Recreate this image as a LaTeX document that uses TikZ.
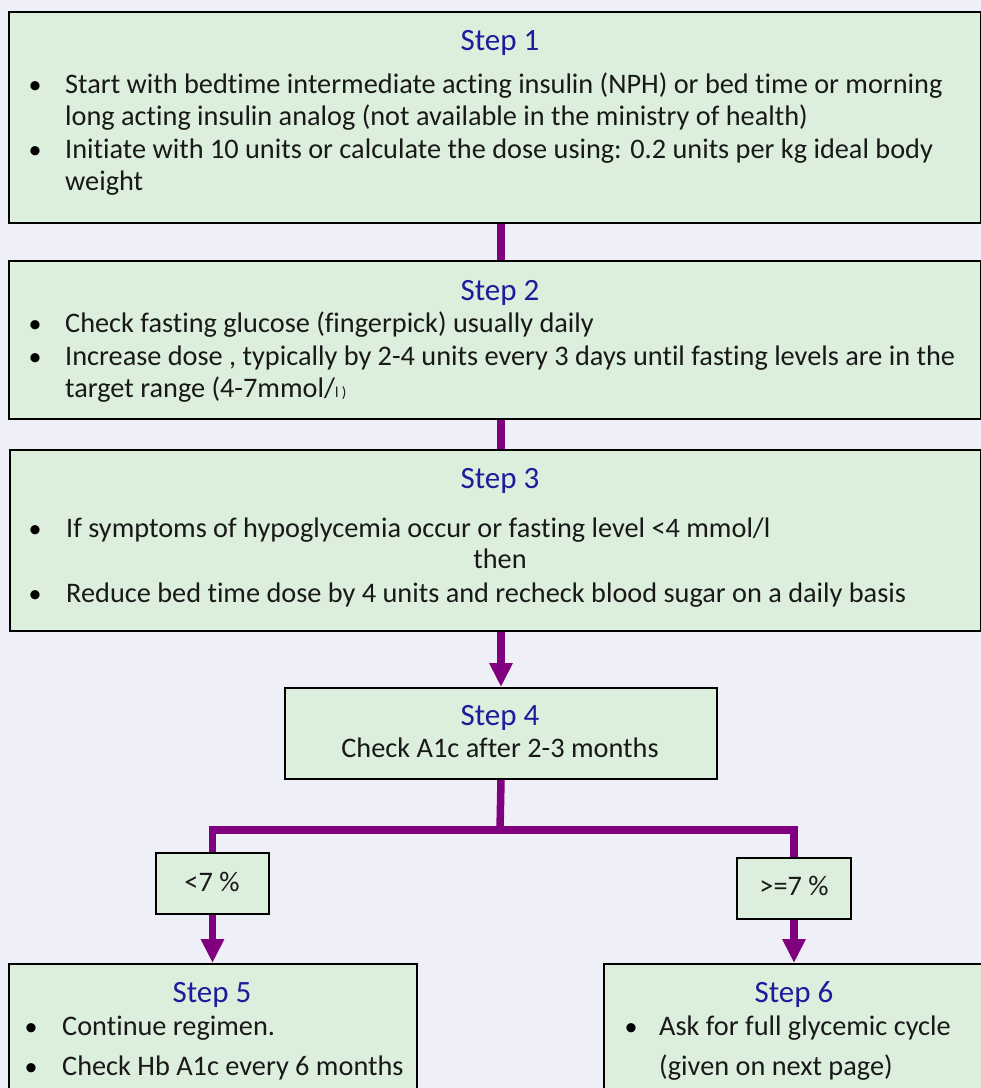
\documentclass[tikz,border=0pt]{standalone}
\usepackage{fontspec}
\setmainfont{Carlito}[Ligatures={NoCommon}]
\usetikzlibrary{arrows.meta}
\definecolor{pagebg}{HTML}{EFEFF8}
\definecolor{boxgreen}{HTML}{DCEEDC}
\definecolor{titleblue}{HTML}{1C1C9C}
\definecolor{flowpurple}{HTML}{800080}
\tikzset{
	stepbox/.style={draw=black, line width=2pt, fill=boxgreen, inner sep=0pt, anchor=north west},
	steptitle/.style={anchor=base, text=titleblue, font=\fontsize{31}{36}\selectfont, inner sep=0pt},
	steptext/.style={anchor=base west, text=black!90, font=\fontsize{28.3}{33}\selectfont, inner sep=0pt},
	stepdot/.style={anchor=base, text=black, font=\fontsize{26}{33}\selectfont, inner sep=0pt},
	flow/.style={draw=flowpurple, line width=7.5pt},
	flowarrow/.style={flow, -{Triangle[width=22pt,length=24pt]}},
}

\begin{document}
\begin{tikzpicture}[x=1pt,y=-1pt]
\useasboundingbox (0,0) rectangle (981,1088);
\clip (0,0) rectangle (981,1088);
\fill[pagebg] (0,0) rectangle (981,1088);
% boxes
\node[stepbox, minimum width=972pt, minimum height=211pt] (s1) at (8,11) {};
\node[stepbox, minimum width=972pt, minimum height=158pt] (s2) at (8,260) {};
\node[stepbox, minimum width=971pt, minimum height=181pt] (s3) at (9,449) {};
\node[stepbox, minimum width=432pt, minimum height=91pt] (s4) at (284,687) {};
\node[stepbox, minimum width=113pt, minimum height=61pt] (lo) at (155,852) {};
\node[stepbox, minimum width=114pt, minimum height=61pt] (hi) at (736,857) {};
\node[stepbox, minimum width=408pt, minimum height=160pt] (s5) at (8,963) {};
\node[stepbox, minimum width=420pt, minimum height=160pt] (s6) at (603,963) {};
% step 1
\node[steptitle] (t1) at (500,50) {Step 1};
\node[stepdot] (d11) at (35,93) {•};
\node[steptext] (a11) at (65,93) {Start with bedtime intermediate acting insulin (NPH) or bed time or morning};
\node[steptext] (a12) at (65,125) {long acting insulin analog (not available in the ministry of health)};
\node[stepdot] (d12) at (35,158) {•};
\node[steptext] (a13) at (65,158) {Initiate with 10 units or calculate the dose using: 0.2 units per kg ideal body};
\node[steptext] (a14) at (65,190) {weight};
% step 2
\node[steptitle] (t2) at (500,300) {Step 2};
\node[stepdot] (d21) at (35,332) {•};
\node[steptext] (a21) at (65,332) {Check fasting glucose (fingerpick) usually daily};
\node[stepdot] (d22) at (35,365) {•};
\node[steptext] (a22) at (65,365) {Increase dose , typically by 2-4 units every 3 days until fasting levels are in the};
\node[steptext] (a23) at (65,397) {target range (4-7mmol/{\fontsize{15}{16}\selectfont l )}};
% step 3
\node[steptitle] (t3) at (500,488) {Step 3};
\node[stepdot] (d31) at (35,537) {•};
\node[steptext] (a31) at (66,537) {If symptoms of hypoglycemia occur or fasting level <4 mmol/l};
\node[steptext, anchor=base] (a32) at (500,568) {then};
\node[stepdot] (d32) at (35,602) {•};
\node[steptext] (a33) at (66,602) {Reduce bed time dose by 4 units and recheck blood sugar on a daily basis};
% step 4
\node[steptitle] (t4) at (500,725) {Step 4};
\node[steptext, anchor=base] (a41) at (500,757) {Check A1c after 2-3 months};
\node[steptext, anchor=base] (c1) at (212,891) {<7 \%};
\node[steptext, anchor=base] (c2) at (794,895) {>=7 \%};
% step 5 and 6
\node[steptitle] (t5) at (212,1002) {Step 5};
\node[stepdot] (d51) at (31,1035) {•};
\node[steptext] (a51) at (62,1035) {Continue regimen.};
\node[stepdot] (d52) at (31,1075) {•};
\node[steptext] (a52) at (62,1075) {Check Hb A1c every 6 months};
\node[steptitle] (t6) at (794,1002) {Step 6};
\node[stepdot] (d61) at (631,1035) {•};
\node[steptext] (a61) at (659,1035) {Ask for full glycemic cycle};
\node[steptext] (a62) at (659,1075) {(given on next page)};
% connectors
\draw[flow] (s1.south -| s4.north) -- (s2.north -| s4.north);
\draw[flow] (s2.south -| s4.north) -- (s3.north -| s4.north);
\draw[flowarrow] (s3.south -| s4.north) -- (s4.north);
\coordinate (fork) at (500,830);
\draw[flow] (s4.south) -- (fork);
\draw[flow] (lo.north) |- (fork) -| (hi.north);
\draw[flowarrow] (lo.south) -- (lo.south |- s5.north);
\draw[flowarrow] (hi.south) -- (hi.south |- s6.north);
\end{tikzpicture}
\end{document}
